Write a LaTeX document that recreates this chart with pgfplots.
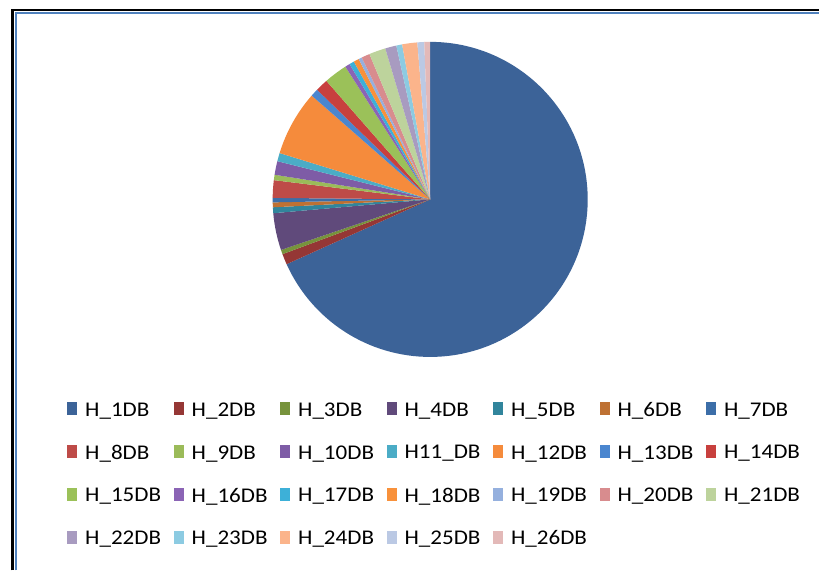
\documentclass[border=0pt]{standalone}
\usepackage{fontspec}
\setmainfont{Carlito}[FakeStretch=1.1]
\usepackage{pgfplots}
\usepackage{pgfplotstable}
\pgfplotsset{compat=1.18}
\definecolor{c0}{HTML}{3C6398}
\definecolor{c1}{HTML}{953735}
\definecolor{c2}{HTML}{77933C}
\definecolor{c3}{HTML}{604A7B}
\definecolor{c4}{HTML}{31859C}
\definecolor{c5}{HTML}{BE7133}
\definecolor{c6}{HTML}{3C6EA8}
\definecolor{c7}{HTML}{BE4B48}
\definecolor{c8}{HTML}{9BBB59}
\definecolor{c9}{HTML}{7E5CA6}
\definecolor{c10}{HTML}{4BACC6}
\definecolor{c11}{HTML}{F58B3C}
\definecolor{c12}{HTML}{4A86CF}
\definecolor{c13}{HTML}{C8403E}
\definecolor{c14}{HTML}{9BC159}
\definecolor{c15}{HTML}{8B64B5}
\definecolor{c16}{HTML}{3DB0D8}
\definecolor{c17}{HTML}{F8913B}
\definecolor{c18}{HTML}{95B0DE}
\definecolor{c19}{HTML}{D88C8E}
\definecolor{c20}{HTML}{BDD39C}
\definecolor{c21}{HTML}{A89BC0}
\definecolor{c22}{HTML}{8CCBE2}
\definecolor{c23}{HTML}{FBB48B}
\definecolor{c24}{HTML}{BBC9E4}
\definecolor{c25}{HTML}{E3B9B8}
\definecolor{frameblue}{HTML}{4F81BD}

\pgfplotstableread{
idx val
0 68.25
1 1.1
2 0.45
3 3.8
4 0.6
5 0.5
6 0.45
7 1.8
8 0.55
9 1.4
10 0.85
11 6.7
12 0.8
13 1.3
14 2.4
15 0.5
16 0.5
17 0.55
18 0.35
19 0.85
20 1.7
21 1.15
22 0.6
23 1.55
24 0.7
25 0.6
}\piedata

\newcommand\lgt[1]{\makebox[88.8bp][l]{#1}}

\begin{document}
\gdef\cum{0}
\foreach \i in {0,...,25}{%
  \pgfplotstablegetelem{\i}{val}\of\piedata
  \pgfmathsetmacro\s{90-3.6*\cum}%
  \pgfmathsetmacro\newcum{\cum+\pgfplotsretval}%
  \pgfmathsetmacro\e{90-3.6*\newcum}%
  \expandafter\xdef\csname sa\i\endcsname{\s}%
  \expandafter\xdef\csname ea\i\endcsname{\e}%
  \xdef\cum{\newcum}%
}%
\begin{tikzpicture}
\useasboundingbox (0,0) rectangle (819bp,572bp);
\fill[white] (0,0) rectangle (819bp,572bp);
\begin{axis}[
  at={(429bp,372bp)}, anchor=center,
  scale only axis, width=316bp, height=316bp,
  xmin=-1, xmax=1, ymin=-1, ymax=1,
  hide axis, clip=false,
  legend columns=7,
  legend image code/.code={\path[#1] (0bp,-5bp) rectangle (10bp,8bp);},
  legend style={at={(-0.6519,-0.144)}, anchor=north west,
    draw=none, fill=none, inner sep=0pt, outer sep=0pt,
    font=\fontsize{21bp}{25bp}\selectfont,
    nodes={inner sep=0pt, outer sep=0pt},
    /tikz/every odd column/.append style={column sep=8bp},
    /tikz/every even column/.append style={column sep=0bp},
    row sep=27bp},
]
\pgfplotsinvokeforeach{0,...,25}{
  \fill[c#1] (axis cs:0,0) -- (axis cs:{cos(\csname sa#1\endcsname)},{sin(\csname sa#1\endcsname)})
     arc[start angle=\csname sa#1\endcsname, end angle=\csname ea#1\endcsname, radius=158bp] -- cycle;
}
\addlegendimage{fill=c0,draw=none}\addlegendentry{\lgt{H\_1DB}}
\addlegendimage{fill=c1,draw=none}\addlegendentry{\lgt{H\_2DB}}
\addlegendimage{fill=c2,draw=none}\addlegendentry{\lgt{H\_3DB}}
\addlegendimage{fill=c3,draw=none}\addlegendentry{\lgt{H\_4DB}}
\addlegendimage{fill=c4,draw=none}\addlegendentry{\lgt{H\_5DB}}
\addlegendimage{fill=c5,draw=none}\addlegendentry{\lgt{H\_6DB}}
\addlegendimage{fill=c6,draw=none}\addlegendentry{\lgt{H\_7DB}}
\addlegendimage{fill=c7,draw=none}\addlegendentry{\lgt{H\_8DB}}
\addlegendimage{fill=c8,draw=none}\addlegendentry{\lgt{H\_9DB}}
\addlegendimage{fill=c9,draw=none}\addlegendentry{\lgt{H\_10DB}}
\addlegendimage{fill=c10,draw=none}\addlegendentry{\lgt{H11\_DB}}
\addlegendimage{fill=c11,draw=none}\addlegendentry{\lgt{H\_12DB}}
\addlegendimage{fill=c12,draw=none}\addlegendentry{\lgt{H\_13DB}}
\addlegendimage{fill=c13,draw=none}\addlegendentry{\lgt{H\_14DB}}
\addlegendimage{fill=c14,draw=none}\addlegendentry{\lgt{H\_15DB}}
\addlegendimage{fill=c15,draw=none}\addlegendentry{\lgt{H\_16DB}}
\addlegendimage{fill=c16,draw=none}\addlegendentry{\lgt{H\_17DB}}
\addlegendimage{fill=c17,draw=none}\addlegendentry{\lgt{H\_18DB}}
\addlegendimage{fill=c18,draw=none}\addlegendentry{\lgt{H\_19DB}}
\addlegendimage{fill=c19,draw=none}\addlegendentry{\lgt{H\_20DB}}
\addlegendimage{fill=c20,draw=none}\addlegendentry{\lgt{H\_21DB}}
\addlegendimage{fill=c21,draw=none}\addlegendentry{\lgt{H\_22DB}}
\addlegendimage{fill=c22,draw=none}\addlegendentry{\lgt{H\_23DB}}
\addlegendimage{fill=c23,draw=none}\addlegendentry{\lgt{H\_24DB}}
\addlegendimage{fill=c24,draw=none}\addlegendentry{\lgt{H\_25DB}}
\addlegendimage{fill=c25,draw=none}\addlegendentry{\lgt{H\_26DB}}
\end{axis}
\draw[black, line width=2.5bp] (10bp,0) -- (10bp,562bp) -- (819bp,562bp);
\draw[frameblue, line width=2bp] (13.3bp,0) -- (13.3bp,558.7bp) -- (819bp,558.7bp);
\end{tikzpicture}
\end{document}
